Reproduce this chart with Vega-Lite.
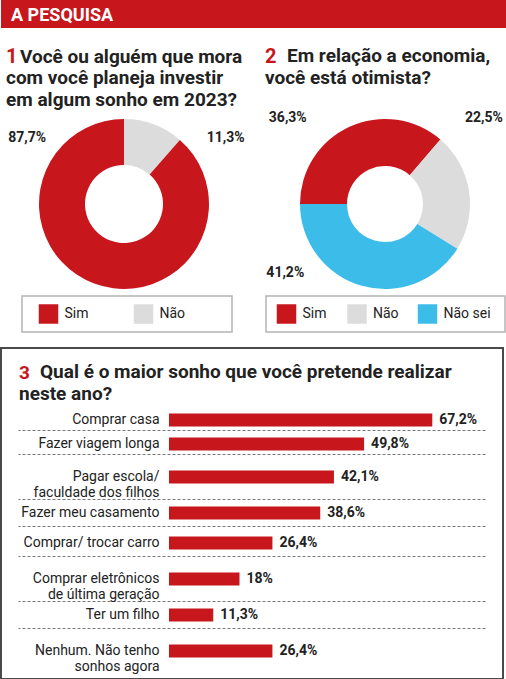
{
  "$schema": "https://vega.github.io/schema/vega-lite/v6.json",
  "padding": 0,
  "background": "white",
  "spacing": 19,
  "datasets": {
    "q1": [
      {"r": "Não", "v": 0.113, "i": 1},
      {"r": "Sim", "v": 0.877, "i": 2}
    ],
    "q2": [
      {"r": "Sim", "v": 0.363, "i": 1},
      {"r": "Não", "v": 0.225, "i": 2},
      {"r": "Não sei", "v": 0.412, "i": 3}
    ],
    "sonhos": [
      {"sonho": "Comprar casa", "v": 0.672},
      {"sonho": "Fazer viagem longa", "v": 0.498},
      {"sonho": "Pagar escola/\nfaculdade dos filhos", "v": 0.421},
      {"sonho": "Fazer meu casamento", "v": 0.386},
      {"sonho": "Comprar/ trocar carro", "v": 0.264},
      {"sonho": "Comprar eletrônicos\nde última geração", "v": 0.18},
      {"sonho": "Ter um filho", "v": 0.113},
      {"sonho": "Nenhum. Não tenho\nsonhos agora", "v": 0.264}
    ]
  },
  "vconcat": [
    {
      "width": 506, "height": 28,
      "view": {"fill": "#c8161d", "stroke": null},
      "title": {"text": "A PESQUISA", "anchor": "start", "frame": "group", "orient": "top", "offset": -24.6, "dx": 10, "color": "white", "fontSize": 18, "fontWeight": "bold", "font": "Roboto"},
      "data": {"values": []},
      "mark": "point"
    },
    {
      "spacing": 14,
      "vconcat": [
        {
          "spacing": 4,
          "hconcat": [
            {"width": 1, "height": 1, "data": {"values": []}, "mark": "point"},
            {
              "spacing": 20,
              "title": {"text": "1", "subtitle": ["com você planeja investir", "em algum sonho em 2023?"], "anchor": "start", "frame": "group", "orient": "top", "offset": -62.8, "dx": -16, "color": "#c8161d", "fontSize": 20, "fontWeight": "bold", "font": "Roboto", "subtitleColor": "#222", "subtitleFont": "Roboto", "subtitleFontSize": 19, "subtitleFontWeight": "bold", "subtitleLineHeight": 21.5, "subtitlePadding": 2.3},
              "hconcat": [
                {
                  "spacing": 6,
                  "vconcat": [
                    {
                      "width": 204, "height": 170,
                      "data": {"name": "q1"},
                      "title": {"text": "Você ou alguém que mora", "anchor": "start", "frame": "group", "orient": "top", "offset": 52, "dx": -2, "color": "#222", "fontSize": 19, "fontWeight": "bold", "font": "Roboto"},
                      "layer": [
                        {
                          "mark": {"type": "arc", "innerRadius": 39, "outerRadius": 85},
                          "encoding": {
                            "theta": {"field": "v", "type": "quantitative", "stack": true},
                            "order": {"field": "i", "type": "quantitative"},
                            "color": {"field": "r", "type": "nominal", "legend": null, "scale": {"domain": ["Sim", "Não", "Não sei"], "range": ["#c8161d", "#dcdcdc", "#3cbde9"]}}
                          }
                        },
                        {
                          "transform": [{"stack": "v", "groupby": [], "sort": [{"field": "i"}], "as": ["v0", "v1"]}, {"filter": "datum.r === 'Sim'"}],
                          "mark": {"type": "text", "radius": 117, "thetaOffset": -1.691, "fontSize": 14, "fontWeight": "bold", "font": "Roboto", "color": "#222"},
                          "encoding": {"theta": {"field": "v0", "type": "quantitative", "stack": null}, "text": {"field": "v", "format": ".1~%"}}
                        },
                        {
                          "transform": [{"stack": "v", "groupby": [], "sort": [{"field": "i"}], "as": ["v0", "v1"]}, {"filter": "datum.r === 'Não'"}],
                          "mark": {"type": "text", "radius": 121, "thetaOffset": 0.998, "fontSize": 14, "fontWeight": "bold", "font": "Roboto", "color": "#222"},
                          "encoding": {"theta": {"field": "v0", "type": "quantitative", "stack": null}, "text": {"field": "v", "format": ".1~%"}}
                        }
                      ]
                    },
                    {
                      "width": 210, "height": 36,
                      "view": {"stroke": "#b4b4b4", "strokeWidth": 1.5},
                      "data": {"name": "q1"},
                      "encoding": {
                        "x": {"field": "r", "type": "nominal", "sort": ["Sim", "Não"], "axis": null, "scale": {"type": "point", "range": [26.5, 121.5], "padding": 0}}
                      },
                      "layer": [
                        {"mark": {"type": "point", "shape": "square", "filled": true, "size": 380, "opacity": 1},
                         "encoding": {"color": {"field": "r", "type": "nominal", "legend": null, "scale": {"domain": ["Sim", "Não", "Não sei"], "range": ["#c8161d", "#dcdcdc", "#3cbde9"]}}}},
                        {"mark": {"type": "text", "align": "left", "dx": 16, "fontSize": 14, "color": "#222", "font": "Roboto"},
                         "encoding": {"text": {"field": "r"}}}
                      ]
                    }
                  ]
                },
                {
                  "spacing": 6,
                  "title": {"text": "2", "subtitle": ["você está otimista?"], "anchor": "start", "frame": "group", "orient": "top", "offset": -41.3, "dx": -1, "color": "#c8161d", "fontSize": 20, "fontWeight": "bold", "font": "Roboto", "subtitleColor": "#222", "subtitleFont": "Roboto", "subtitleFontSize": 19, "subtitleFontWeight": "bold", "subtitleLineHeight": 21.5, "subtitlePadding": 2.3},
                  "vconcat": [
                    {
                      "width": 238, "height": 170,
                      "data": {"name": "q2"},
                      "title": {"text": "Em relação a economia,", "anchor": "start", "frame": "group", "orient": "top", "offset": 44.5, "dx": 21, "color": "#222", "fontSize": 19, "fontWeight": "bold", "font": "Roboto"},
                      "layer": [
                        {
                          "mark": {"type": "arc", "innerRadius": 38, "outerRadius": 85},
                          "encoding": {
                            "theta": {"field": "v", "type": "quantitative", "stack": true, "scale": {"range": [4.712389, 10.995574]}},
                            "order": {"field": "i", "type": "quantitative"},
                            "color": {"field": "r", "type": "nominal", "legend": null, "scale": {"domain": ["Sim", "Não", "Não sei"], "range": ["#c8161d", "#dcdcdc", "#3cbde9"]}}
                          }
                        },
                        {
                          "transform": [{"stack": "v", "groupby": [], "sort": [{"field": "i"}], "as": ["v0", "v1"]}, {"filter": "datum.r === 'Sim'"}],
                          "mark": {"type": "text", "radius": 130, "thetaOffset": 0.726, "fontSize": 14, "fontWeight": "bold", "font": "Roboto", "color": "#222"},
                          "encoding": {"theta": {"field": "v0", "type": "quantitative", "stack": null, "scale": {"range": [4.712389, 10.995574]}}, "text": {"field": "v", "format": ".1~%"}}
                        },
                        {
                          "transform": [{"stack": "v", "groupby": [], "sort": [{"field": "i"}], "as": ["v0", "v1"]}, {"filter": "datum.r === 'Não'"}],
                          "mark": {"type": "text", "radius": 131, "thetaOffset": 0.145, "fontSize": 14, "fontWeight": "bold", "font": "Roboto", "color": "#222"},
                          "encoding": {"theta": {"field": "v0", "type": "quantitative", "stack": null, "scale": {"range": [4.712389, 10.995574]}}, "text": {"field": "v", "format": ".1~%"}}
                        },
                        {
                          "transform": [{"stack": "v", "groupby": [], "sort": [{"field": "i"}], "as": ["v0", "v1"]}, {"filter": "datum.r === 'Não sei'"}],
                          "mark": {"type": "text", "radius": 121, "thetaOffset": 1.986, "fontSize": 14, "fontWeight": "bold", "font": "Roboto", "color": "#222"},
                          "encoding": {"theta": {"field": "v0", "type": "quantitative", "stack": null, "scale": {"range": [4.712389, 10.995574]}}, "text": {"field": "v", "format": ".1~%"}}
                        }
                      ]
                    },
                    {
                      "width": 239, "height": 36,
                      "view": {"stroke": "#b4b4b4", "strokeWidth": 1.5},
                      "data": {"name": "q2"},
                      "encoding": {
                        "x": {"field": "r", "type": "nominal", "sort": ["Sim", "Não", "Não sei"], "axis": null, "scale": {"type": "point", "range": [20.5, 161.5], "padding": 0}}
                      },
                      "layer": [
                        {"mark": {"type": "point", "shape": "square", "filled": true, "size": 380, "opacity": 1},
                         "encoding": {"color": {"field": "r", "type": "nominal", "legend": null, "scale": {"domain": ["Sim", "Não", "Não sei"], "range": ["#c8161d", "#dcdcdc", "#3cbde9"]}}}},
                        {"mark": {"type": "text", "align": "left", "dx": 16, "fontSize": 14, "color": "#222", "font": "Roboto"},
                         "encoding": {"text": {"field": "r"}}}
                      ]
                    }
                  ]
                }
              ]
            }
          ]
        },
        {
          "title": {"text": "Qual é o maior sonho que você pretende realizar", "anchor": "start", "frame": "group", "orient": "top", "offset": -34.5, "dx": 39, "color": "#222", "fontSize": 19, "fontWeight": "bold", "font": "Roboto"},
          "vconcat": [
            {
              "width": 502, "height": 331,
              "view": {"stroke": "#4a4a4a", "strokeWidth": 2},
              "data": {"name": "sonhos"},
              "title": {"text": "3", "subtitle": ["neste ano?"], "anchor": "start", "frame": "group", "orient": "top", "offset": -56, "dx": 18, "color": "#c8161d", "fontSize": 19, "fontWeight": "bold", "font": "Roboto", "subtitleColor": "#222", "subtitleFont": "Roboto", "subtitleFontSize": 19, "subtitleFontWeight": "bold", "subtitleLineHeight": 21.5, "subtitlePadding": 2.5},
              "layer": [
                {
                  "mark": {"type": "bar", "color": "#c8161d", "size": 13},
                  "encoding": {
                    "y": {"field": "sonho", "type": "nominal", "title": null, "sort": null,
                          "scale": {"type": "band", "domain": ["_a0", "_a1", "_a2", "Comprar casa", "_a4", "_a5", "_a6", "_b0", "_b1", "_b2", "_b3", "Fazer viagem longa", "_b5", "_b6", "_b7", "_c0", "_c1", "_c2", "_c3", "_c4", "_c5", "_c6", "Pagar escola/\nfaculdade dos filhos", "_c8", "_c9", "_c10", "_c11", "_c12", "_c13", "_c14", "_d0", "_d1", "_d2", "_d3", "Fazer meu casamento", "_d5", "_d6", "_d7", "_d8", "_e0", "_e1", "_e2", "_e3", "_e4", "Comprar/ trocar carro", "_e6", "_e7", "_e8", "_e9", "_f0", "_f1", "_f2", "_f3", "_f4", "_f5", "_f6", "Comprar eletrônicos\nde última geração", "_f8", "_f9", "_f10", "_f11", "_f12", "_f13", "_f14", "_g0", "_g1", "_g2", "_g3", "Ter um filho", "_g5", "_g6", "_g7", "_g8", "_h0", "_h1", "_h2", "_h3", "_h4", "_h5", "_h6", "Nenhum. Não tenho\nsonhos agora", "_h8", "_h9", "_h10", "_h11", "_h12", "_h13", "_h14", "_h15"], "range": [61.5, 328.5], "paddingInner": 0, "paddingOuter": 0},
                          "axis": {"orient": "left", "values": ["Comprar casa", "Fazer viagem longa", "Pagar escola/\nfaculdade dos filhos", "Fazer meu casamento", "Comprar/ trocar carro", "Comprar eletrônicos\nde última geração", "Ter um filho", "Nenhum. Não tenho\nsonhos agora"], "offset": -168, "labelPadding": 10, "labelFont": "Roboto", "labelFontSize": 14, "labelColor": "#222", "labelLineHeight": 16, "labelLimit": 300, "labelExpr": "split(datum.label, '\\n')", "domain": false, "ticks": false, "grid": false}},
                    "x": {"field": "v", "type": "quantitative", "title": null, "axis": null, "scale": {"domain": [-0.3828, 0.8091], "range": [18, 485], "nice": false, "zero": false}}
                  }
                },
                {
                  "mark": {"type": "text", "align": "left", "dx": 7, "fontSize": 14, "fontWeight": "bold", "color": "#222", "font": "Roboto"},
                  "encoding": {
                    "y": {"field": "sonho", "type": "nominal", "title": null, "sort": null,
                          "scale": {"type": "band", "domain": ["_a0", "_a1", "_a2", "Comprar casa", "_a4", "_a5", "_a6", "_b0", "_b1", "_b2", "_b3", "Fazer viagem longa", "_b5", "_b6", "_b7", "_c0", "_c1", "_c2", "_c3", "_c4", "_c5", "_c6", "Pagar escola/\nfaculdade dos filhos", "_c8", "_c9", "_c10", "_c11", "_c12", "_c13", "_c14", "_d0", "_d1", "_d2", "_d3", "Fazer meu casamento", "_d5", "_d6", "_d7", "_d8", "_e0", "_e1", "_e2", "_e3", "_e4", "Comprar/ trocar carro", "_e6", "_e7", "_e8", "_e9", "_f0", "_f1", "_f2", "_f3", "_f4", "_f5", "_f6", "Comprar eletrônicos\nde última geração", "_f8", "_f9", "_f10", "_f11", "_f12", "_f13", "_f14", "_g0", "_g1", "_g2", "_g3", "Ter um filho", "_g5", "_g6", "_g7", "_g8", "_h0", "_h1", "_h2", "_h3", "_h4", "_h5", "_h6", "Nenhum. Não tenho\nsonhos agora", "_h8", "_h9", "_h10", "_h11", "_h12", "_h13", "_h14", "_h15"], "range": [61.5, 328.5], "paddingInner": 0, "paddingOuter": 0},
                          "axis": {"orient": "right", "values": ["_b0", "_c0", "_d0", "_e0", "_f0", "_g0", "_h0"], "bandPosition": 0, "grid": true, "gridDash": [3, 2], "gridColor": "#777", "gridWidth": 1, "labels": false, "ticks": false, "domain": false}},
                    "x": {"field": "v", "type": "quantitative", "title": null, "axis": null, "scale": {"domain": [-0.3828, 0.8091], "range": [18, 485], "nice": false, "zero": false}},
                    "text": {"field": "v", "format": ".1~%"}
                  }
                }
              ],
              "resolve": {"axis": {"y": "independent"}}
            }
          ]
        }
      ]
    }
  ],
  "config": {
    "view": {"stroke": null},
    "locale": {"number": {"decimal": ",", "thousands": ".", "grouping": [3], "currency": ["R$", ""]}}
  }
}
